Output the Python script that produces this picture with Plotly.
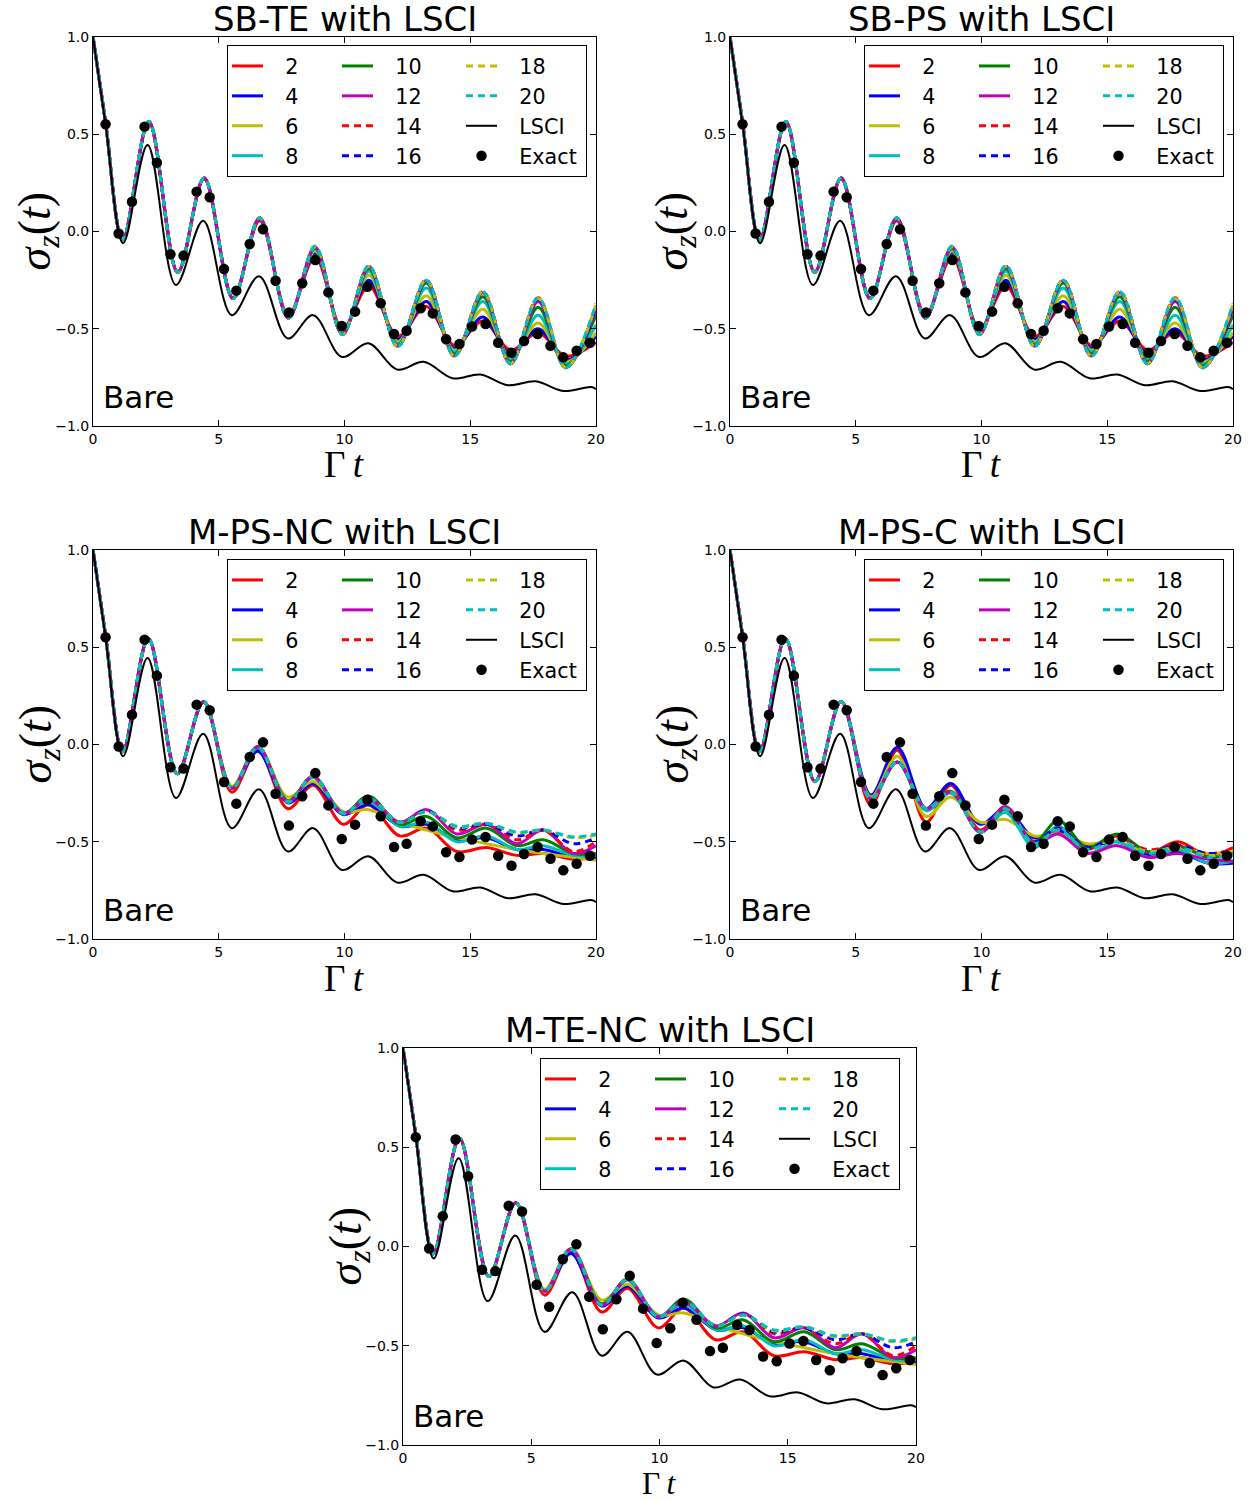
import plotly.graph_objects as go

W, H = 1251, 1501

# ---------------- data ----------------
NS = [2, 4, 6, 8, 10, 12, 14, 16, 18, 20]

# SB-TE / SB-PS panels: extrema of the oscillation
T_SB = [0, 0.5, 1.18, 2.22, 3.37, 4.42, 5.57, 6.63, 7.77, 8.83, 9.92, 10.97, 12.12, 13.25, 14.37, 15.5, 16.6, 17.7, 18.8, 20.0]
SB_2 = [1.0, 0.56, -0.045, 0.56, -0.205, 0.27, -0.34, 0.055, -0.43, -0.13, -0.50, -0.28, -0.54, -0.385, -0.585, -0.46, -0.61, -0.52, -0.64, -0.57]
SB_4 = [1.0, 0.56, -0.045, 0.565, -0.21, 0.275, -0.345, 0.065, -0.44, -0.11, -0.51, -0.25, -0.555, -0.36, -0.60, -0.44, -0.63, -0.50, -0.66, -0.54]
SB_6 = [1.0, 0.56, -0.045, 0.565, -0.21, 0.275, -0.345, 0.07, -0.44, -0.10, -0.515, -0.225, -0.565, -0.33, -0.61, -0.40, -0.645, -0.47, -0.67, -0.52]
SB_8 = [1.0, 0.56, -0.045, 0.565, -0.21, 0.275, -0.345, 0.07, -0.445, -0.09, -0.52, -0.205, -0.575, -0.29, -0.62, -0.36, -0.66, -0.43, -0.68, -0.48]
SB_10 = [1.0, 0.56, -0.045, 0.565, -0.21, 0.275, -0.345, 0.07, -0.445, -0.085, -0.525, -0.19, -0.585, -0.265, -0.63, -0.335, -0.67, -0.39, -0.69, -0.43]
SB_12 = [1.0, 0.56, -0.045, 0.565, -0.21, 0.275, -0.345, 0.07, -0.445, -0.08, -0.53, -0.18, -0.59, -0.255, -0.64, -0.315, -0.68, -0.36, -0.70, -0.40]
SB_14 = [1.0, 0.56, -0.045, 0.565, -0.21, 0.275, -0.345, 0.07, -0.445, -0.08, -0.53, -0.18, -0.59, -0.25, -0.64, -0.31, -0.68, -0.34, -0.70, -0.38]
SB_16 = [1.0, 0.56, -0.045, 0.565, -0.21, 0.275, -0.345, 0.07, -0.445, -0.08, -0.53, -0.18, -0.59, -0.25, -0.64, -0.31, -0.68, -0.35, -0.70, -0.39]
SB_18 = [1.0, 0.56, -0.045, 0.565, -0.21, 0.275, -0.345, 0.07, -0.445, -0.08, -0.53, -0.18, -0.59, -0.25, -0.64, -0.31, -0.68, -0.345, -0.70, -0.38]
SB_20 = [1.0, 0.56, -0.045, 0.565, -0.21, 0.275, -0.345, 0.07, -0.445, -0.075, -0.53, -0.175, -0.59, -0.25, -0.64, -0.31, -0.68, -0.34, -0.70, -0.37]

# M-PS-NC / M-TE-NC panels
T_NC = [0, 0.5, 1.18, 2.2, 3.35, 4.4, 5.52, 6.55, 7.75, 8.75, 9.95, 10.95, 12.2, 13.27, 14.46, 15.65, 16.85, 17.9, 19.1, 20.0]
NC_2 = [1.0, 0.56, -0.037, 0.545, -0.15, 0.22, -0.245, -0.03, -0.33, -0.21, -0.41, -0.31, -0.47, -0.43, -0.55, -0.53, -0.57, -0.56, -0.59, -0.58]
NC_4 = [1.0, 0.56, -0.037, 0.545, -0.15, 0.22, -0.22, -0.035, -0.30, -0.20, -0.36, -0.31, -0.42, -0.41, -0.49, -0.48, -0.54, -0.54, -0.58, -0.585]
NC_6 = [1.0, 0.56, -0.037, 0.545, -0.15, 0.22, -0.215, -0.01, -0.27, -0.19, -0.345, -0.335, -0.40, -0.44, -0.48, -0.51, -0.54, -0.56, -0.58, -0.595]
NC_8 = [1.0, 0.56, -0.037, 0.545, -0.15, 0.22, -0.225, -0.015, -0.29, -0.17, -0.35, -0.29, -0.42, -0.40, -0.50, -0.47, -0.54, -0.52, -0.57, -0.57]
NC_10 = [1.0, 0.56, -0.037, 0.545, -0.15, 0.22, -0.225, -0.012, -0.29, -0.165, -0.355, -0.265, -0.41, -0.37, -0.48, -0.43, -0.52, -0.49, -0.56, -0.56]
NC_12 = [1.0, 0.56, -0.037, 0.545, -0.15, 0.22, -0.225, -0.012, -0.295, -0.165, -0.355, -0.28, -0.40, -0.335, -0.46, -0.41, -0.51, -0.44, -0.56, -0.52]
NC_14 = [1.0, 0.56, -0.037, 0.545, -0.15, 0.22, -0.225, -0.012, -0.295, -0.165, -0.355, -0.275, -0.40, -0.34, -0.44, -0.41, -0.49, -0.44, -0.55, -0.50]
NC_16 = [1.0, 0.56, -0.037, 0.545, -0.15, 0.22, -0.225, -0.012, -0.295, -0.165, -0.355, -0.275, -0.40, -0.34, -0.43, -0.41, -0.47, -0.44, -0.51, -0.48]
NC_18 = [1.0, 0.56, -0.037, 0.545, -0.15, 0.22, -0.225, -0.012, -0.295, -0.165, -0.355, -0.275, -0.40, -0.345, -0.425, -0.405, -0.455, -0.44, -0.48, -0.465]
NC_20 = [1.0, 0.56, -0.037, 0.545, -0.15, 0.22, -0.225, -0.012, -0.295, -0.165, -0.355, -0.275, -0.40, -0.345, -0.42, -0.405, -0.45, -0.44, -0.475, -0.46]

# M-PS-C panel
T_C = [0, 0.5, 1.18, 2.2, 3.38, 4.42, 5.6, 6.65, 7.8, 8.78, 9.95, 10.95, 12.1, 13.05, 14.2, 15.4, 16.6, 17.8, 19.0, 20.0]
C_2 = [1.0, 0.56, -0.037, 0.545, -0.19, 0.22, -0.31, -0.03, -0.40, -0.21, -0.44, -0.32, -0.50, -0.45, -0.54, -0.47, -0.56, -0.50, -0.57, -0.53]
C_4 = [1.0, 0.56, -0.037, 0.545, -0.19, 0.22, -0.26, -0.015, -0.33, -0.20, -0.41, -0.33, -0.48, -0.44, -0.52, -0.50, -0.57, -0.55, -0.61, -0.61]
C_6 = [1.0, 0.56, -0.037, 0.545, -0.19, 0.22, -0.27, -0.06, -0.37, -0.27, -0.40, -0.385, -0.47, -0.46, -0.51, -0.50, -0.55, -0.53, -0.56, -0.55]
C_8 = [1.0, 0.56, -0.037, 0.545, -0.19, 0.22, -0.28, -0.09, -0.34, -0.25, -0.45, -0.35, -0.53, -0.42, -0.56, -0.50, -0.58, -0.54, -0.61, -0.60]
C_10 = [1.0, 0.56, -0.037, 0.545, -0.19, 0.22, -0.28, -0.09, -0.33, -0.24, -0.45, -0.33, -0.50, -0.39, -0.53, -0.46, -0.55, -0.52, -0.58, -0.56]
C_12 = [1.0, 0.56, -0.037, 0.545, -0.19, 0.22, -0.28, -0.09, -0.33, -0.245, -0.45, -0.32, -0.51, -0.46, -0.56, -0.52, -0.58, -0.56, -0.59, -0.60]
C_14 = [1.0, 0.56, -0.037, 0.545, -0.19, 0.22, -0.28, -0.088, -0.33, -0.245, -0.45, -0.33, -0.50, -0.43, -0.53, -0.48, -0.54, -0.52, -0.56, -0.54]
C_16 = [1.0, 0.56, -0.037, 0.545, -0.19, 0.22, -0.28, -0.088, -0.33, -0.245, -0.45, -0.33, -0.50, -0.43, -0.53, -0.48, -0.55, -0.52, -0.56, -0.55]
C_18 = [1.0, 0.56, -0.037, 0.545, -0.19, 0.22, -0.28, -0.088, -0.33, -0.245, -0.45, -0.33, -0.51, -0.44, -0.54, -0.49, -0.55, -0.53, -0.57, -0.56]
C_20 = [1.0, 0.56, -0.037, 0.545, -0.19, 0.22, -0.28, -0.088, -0.33, -0.245, -0.45, -0.33, -0.51, -0.44, -0.54, -0.49, -0.56, -0.53, -0.58, -0.57]

# LSCI curve (same in all panels)
LSCI_T = [0, 0.5, 1.2, 2.17, 3.3, 4.38, 5.52, 6.6, 7.75, 8.75, 9.9, 10.95, 12.1, 13.15, 14.3, 15.4, 16.5, 17.6, 18.7, 19.8, 20.0]
LSCI_Y = [1.0, 0.55, -0.06, 0.445, -0.275, 0.055, -0.43, -0.23, -0.55, -0.43, -0.645, -0.575, -0.71, -0.67, -0.755, -0.735, -0.79, -0.77, -0.82, -0.80, -0.81]

# Exact points (same in all panels)
EX_T = [0.50, 1.02, 1.55, 2.05, 2.54, 3.08, 3.60, 4.12, 4.64, 5.21, 5.70, 6.23, 6.76, 7.26, 7.79, 8.32,
        8.84, 9.36, 9.89, 10.42, 10.91, 11.44, 11.97, 12.47, 13.03, 13.51, 14.04, 14.57, 15.07, 15.61,
        16.11, 16.64, 17.14, 17.68, 18.19, 18.70, 19.23, 19.76]
EX_Y = [0.551, -0.010, 0.153, 0.539, 0.354, -0.117, -0.124, 0.205, 0.176, -0.193, -0.304, -0.064, 0.011,
        -0.253, -0.417, -0.266, -0.147, -0.313, -0.486, -0.412, -0.284, -0.369, -0.527, -0.510, -0.395,
        -0.421, -0.554, -0.578, -0.489, -0.476, -0.572, -0.623, -0.563, -0.527, -0.587, -0.647, -0.613, -0.572]

TITLES = ['SB-TE with LSCI', 'SB-PS with LSCI', 'M-PS-NC with LSCI', 'M-PS-C with LSCI', 'M-TE-NC with LSCI']
X_TICKS = [0, 5, 10, 15, 20]
Y_TICKS = [-1.0, -0.5, 0.0, 0.5, 1.0]

SB = [SB_2, SB_4, SB_6, SB_8, SB_10, SB_12, SB_14, SB_16, SB_18, SB_20]
NC = [NC_2, NC_4, NC_6, NC_8, NC_10, NC_12, NC_14, NC_16, NC_18, NC_20]
MC = [C_2, C_4, C_6, C_8, C_10, C_12, C_14, C_16, C_18, C_20]

# ---------------- styling / layout ----------------
COLORS = ['#FF0000', '#0000FF', '#BFBF00', '#00BFBF', '#008000', '#BF00BF',
          '#FF0000', '#0000FF', '#BFBF00', '#00BFBF']
GROUPS = ['a', 'a', 'a', 'a', 'b', 'b', 'b', 'b', 'c', 'c']
LEGW = {'a': 64, 'b': 78, 'c': 79}
PAD = '\u00a0\u00a0\u2009'   # gap between legend symbol and label
FONT = 'DejaVu Sans'
SERIF = 'Liberation Serif'

# plot boxes in pixels: left, right, top, bottom ; legend top-left ; x-label centre & size
PANELS = [
    dict(t=T_SB, ys=SB, box=(93, 596, 37, 426), leg=(227, 45), xl=(465, 37)),
    dict(t=T_SB, ys=SB, box=(730, 1233, 37, 426), leg=(864, 45), xl=(465, 37)),
    dict(t=T_NC, ys=NC, box=(93, 596, 550, 939), leg=(227, 559), xl=(978, 37)),
    dict(t=T_C, ys=MC, box=(730, 1233, 550, 939), leg=(864, 559), xl=(978, 37)),
    dict(t=T_NC, ys=NC, box=(403, 916, 1048, 1445), leg=(540, 1058), xl=(1483.3, 31.5)),
]

fig = go.Figure()
annotations = []

axis_common = dict(showline=True, linecolor='black', linewidth=1, mirror='ticks',
                   ticks='inside', ticklen=6, tickwidth=1, tickcolor='black',
                   showgrid=False, zeroline=False, automargin=False,
                   tickfont=dict(family=FONT, size=14, color='black'))

for i, p in enumerate(PANELS, start=1):
    sfx = '' if i == 1 else str(i)
    xa, ya, lg = 'x' + sfx, 'y' + sfx, 'legend' + sfx
    for n, c, g, yv in zip(NS, COLORS, GROUPS, p['ys']):
        fig.add_trace(go.Scatter(
            x=p['t'], y=yv, mode='lines', name=PAD + str(n),
            line=dict(color=c, width=3, dash='solid' if n <= 12 else '7px,5px',
                      shape='spline', smoothing=1),
            xaxis=xa, yaxis=ya, legend=lg, legendgroup=f'{g}{i}', legendwidth=LEGW[g],
            hoverinfo='skip'))
    fig.add_trace(go.Scatter(
        x=LSCI_T, y=LSCI_Y, mode='lines', name=PAD + 'LSCI',
        line=dict(color='black', width=2, shape='spline', smoothing=1),
        xaxis=xa, yaxis=ya, legend=lg, legendgroup=f'c{i}', legendwidth=LEGW['c'],
        hoverinfo='skip'))
    fig.add_trace(go.Scatter(
        x=EX_T, y=EX_Y, mode='markers', name=PAD + 'Exact',
        marker=dict(color='black', size=10.5, line=dict(width=0)),
        xaxis=xa, yaxis=ya, legend=lg, legendgroup=f'c{i}', legendwidth=LEGW['c'],
        hoverinfo='skip'))

    L, R, T, B = p['box']
    fig.layout['xaxis' + sfx] = dict(axis_common, domain=[L / W, R / W], range=[0, 20],
                                     anchor=ya, tickvals=X_TICKS)
    fig.layout['yaxis' + sfx] = dict(axis_common, domain=[1 - B / H, 1 - T / H], range=[-1, 1],
                                     anchor=xa, tickvals=Y_TICKS, tickformat='.1f')
    lx, ly = p['leg']
    fig.layout[lg] = dict(x=lx / W, y=1 - ly / H, xanchor='left', yanchor='top',
                          orientation='h', traceorder='grouped', tracegroupgap=0,
                          bgcolor='white', bordercolor='black', borderwidth=1,
                          itemwidth=31,
                          font=dict(family=FONT, size=20.7, color='black'))
    cx = (L + R) / 2
    annotations.append(dict(text=TITLES[i - 1], x=cx / W, y=1 - (T - 18) / H,
                            xref='paper', yref='paper', xanchor='center', yanchor='middle',
                            showarrow=False, font=dict(family=FONT, size=34, color='black')))
    gy, gs = p['xl']
    annotations.append(dict(text='Γ\u2009<i>t</i>', x=cx / W, y=1 - gy / H,
                            xref='paper', yref='paper', xanchor='center', yanchor='middle',
                            showarrow=False, borderpad=0,
                            font=dict(family=SERIF, size=gs, color='black')))
    annotations.append(dict(text='<i>σ</i><sub><i>z</i></sub>(<i>t</i>)', x=(L - 55) / W,
                            y=1 - (T + B) / 2 / H, xref='paper', yref='paper',
                            xanchor='center', yanchor='middle', textangle=-90,
                            showarrow=False, font=dict(family=SERIF, size=46, color='black')))
    annotations.append(dict(text='Bare', x=(L + 8) / W, y=1 - (B - 29) / H,
                            xref='paper', yref='paper', xanchor='left', yanchor='middle',
                            showarrow=False, font=dict(family=FONT, size=31, color='black')))

fig.update_layout(width=W, height=H,
                  margin=dict(l=0, r=0, t=0, b=0, pad=0, autoexpand=False),
                  paper_bgcolor='white', plot_bgcolor='white', showlegend=True,
                  annotations=annotations)

fig.write_html('out.html')
